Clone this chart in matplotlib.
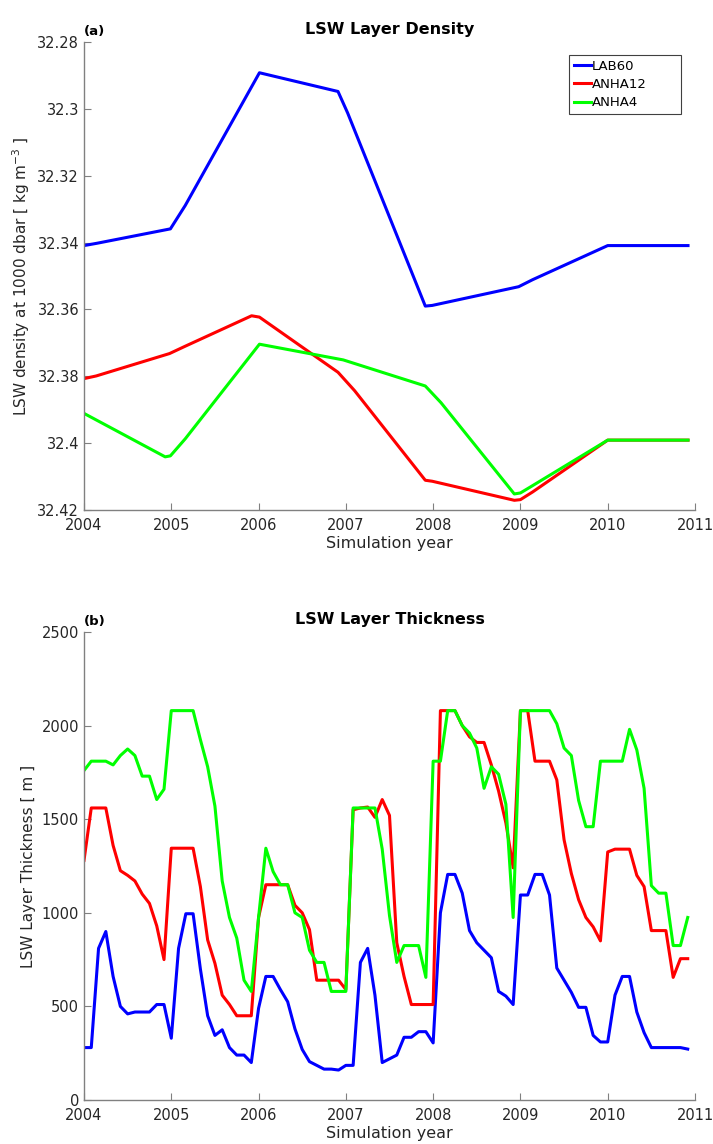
import matplotlib
matplotlib.use("Agg")
import matplotlib.pyplot as plt
import numpy as np

# panel (a): density vertices (decimal year, value)
lab60_dens_t = [2004.0, 2004.15, 2004.99, 2005.16, 2006.01, 2006.91, 2007.02, 2007.91, 2007.99,
                2008.98, 2009.14, 2010.0, 2010.92]
lab60_dens = [32.3409, 32.3402, 32.3359, 32.3289, 32.2892, 32.2948, 32.3012, 32.3590, 32.3588,
              32.3532, 32.3511, 32.3409, 32.3409]
anha12_dens_t = [2004.0, 2004.14, 2004.98, 2005.16, 2005.92, 2006.01, 2006.91, 2007.10,
                 2007.91, 2007.99, 2008.93, 2009.0, 2009.14, 2010.0, 2010.92]
anha12_dens = [32.3807, 32.3799, 32.3732, 32.3710, 32.3619, 32.3623, 32.3788, 32.3843,
               32.4111, 32.4114, 32.4171, 32.4169, 32.4146, 32.3991, 32.3991]
anha4_dens_t = [2004.0, 2004.93, 2004.99, 2005.16, 2006.01, 2006.97, 2007.91, 2008.09,
                2008.93, 2009.0, 2009.14, 2010.0, 2010.92]
anha4_dens = [32.3911, 32.4041, 32.4038, 32.3987, 32.3704, 32.3751, 32.3829, 32.3879,
              32.4152, 32.4149, 32.4127, 32.3991, 32.3991]

# panel (b): monthly layer thickness, Jan 2004 - Dec 2010
lab60_thk = [280, 280, 810, 900, 660, 500, 460, 470, 470, 470, 510, 510,
             330, 810, 995, 995, 700, 450, 345, 375, 280, 240, 240, 200,
             490, 660, 660, 590, 525, 380, 270, 205, 185, 165, 165, 160,
             185, 185, 735, 810, 560, 200, 220, 240, 335, 335, 365, 365,
             305, 1000, 1205, 1205, 1105, 905, 840, 800, 760, 580, 555, 510,
             1095, 1095, 1205, 1205, 1095, 705, 640, 575, 495, 495, 345, 310,
             310, 560, 660, 660, 470, 360, 280, 280, 280, 280, 280, 272]
anha12_thk = [1280, 1560, 1560, 1560, 1360, 1225, 1200, 1170, 1100, 1050, 930, 750,
              1345, 1345, 1345, 1345, 1140, 855, 730, 560, 510, 450, 450, 450,
              975, 1150, 1150, 1150, 1150, 1040, 1000, 910, 640, 640, 640, 640,
              590, 1550, 1560, 1565, 1510, 1605, 1520, 840, 660, 510, 510, 510,
              510, 2080, 2080, 2080, 2000, 1940, 1910, 1910, 1790, 1650, 1480, 1240,
              2080, 2080, 1810, 1810, 1810, 1710, 1390, 1210, 1070, 975, 925, 850,
              1325, 1340, 1340, 1340, 1200, 1140, 905, 905, 905, 655, 755, 755]
anha4_thk = [1760, 1810, 1810, 1810, 1790, 1840, 1875, 1840, 1730, 1730, 1605, 1660,
             2080, 2080, 2080, 2080, 1925, 1780, 1570, 1170, 975, 865, 640, 580,
             975, 1345, 1220, 1150, 1150, 1000, 975, 800, 735, 735, 580, 580,
             580, 1560, 1560, 1560, 1560, 1340, 985, 735, 825, 825, 825, 655,
             1810, 1810, 2080, 2080, 2000, 1960, 1880, 1665, 1780, 1740, 1580, 975,
             2080, 2080, 2080, 2080, 2080, 2010, 1880, 1840, 1600, 1460, 1460, 1810,
             1810, 1810, 1810, 1980, 1870, 1665, 1145, 1105, 1105, 825, 825, 975]
months = 2004 + np.arange(len(lab60_thk)) / 12.0

years = list(range(2004, 2012))
dens_ticks = [32.28, 32.30, 32.32, 32.34, 32.36, 32.38, 32.40, 32.42]
dens_labels = ['32.28', '32.3', '32.32', '32.34', '32.36', '32.38', '32.4', '32.42']
thk_ticks = [0, 500, 1000, 1500, 2000, 2500]

plt.rcParams['font.family'] = ['DejaVu Sans']
grey = '#262626'

fig = plt.figure(figsize=(7.13, 11.44), dpi=100)
ax1 = fig.add_axes([84/713, 1 - 510/1144, 611/713, 468/1144])
ax2 = fig.add_axes([84/713, 1 - 1100/1144, 611/713, 468/1144])


def style(ax):
    for s in ['top', 'right']:
        ax.spines[s].set_visible(False)
    for s in ['left', 'bottom']:
        ax.spines[s].set_color('#808080')
        ax.spines[s].set_linewidth(1.0)
    ax.tick_params(direction='in', length=5, color='#808080', labelcolor=grey,
                   labelsize=10.5)
    ax.tick_params(axis='x', pad=6)
    ax.set_xlim(2004, 2011)
    ax.set_xticks(years)
    ax.set_xlabel('Simulation year', fontsize=11.5, color=grey, labelpad=2)


ax1.plot(lab60_dens_t, lab60_dens, color='#0000ff', lw=2.2, label='LAB60')
ax1.plot(anha12_dens_t, anha12_dens, color='#ff0000', lw=2.2, label='ANHA12')
ax1.plot(anha4_dens_t, anha4_dens, color='#00ff00', lw=2.2, label='ANHA4')
style(ax1)
ax1.set_ylim(32.42, 32.28)
ax1.set_yticks(dens_ticks)
ax1.set_yticklabels(dens_labels)
ax1.set_ylabel('LSW density at 1000 dbar [ kg m$^{-3}$ ]', fontsize=11, color=grey)
ax1.set_title('LSW Layer Density', fontsize=11.5, fontweight='bold', pad=6)
ax1.text(0, 1.008, '(a)', transform=ax1.transAxes, fontsize=9.5, fontweight='bold',
         va='bottom', ha='left')
leg = ax1.legend(loc='upper left', bbox_to_anchor=(0.794, 0.5, 0.183, 0.472),
                 mode='expand', fontsize=9.5, handlelength=1.3, handletextpad=0.05,
                 borderpad=0.35, borderaxespad=0, labelspacing=0.4,
                 fancybox=False, framealpha=1)
leg.get_frame().set_edgecolor('#404040')
leg.get_frame().set_linewidth(0.8)

ax2.plot(months, lab60_thk, color='#0000ff', lw=2.2)
ax2.plot(months, anha12_thk, color='#ff0000', lw=2.2)
ax2.plot(months, anha4_thk, color='#00ff00', lw=2.2)
style(ax2)
ax2.set_ylim(0, 2500)
ax2.set_yticks(thk_ticks)
ax2.set_ylabel('LSW Layer Thickness [ m ]', fontsize=11, color=grey)
ax2.set_title('LSW Layer Thickness', fontsize=11.5, fontweight='bold', pad=6)
ax2.text(0, 1.008, '(b)', transform=ax2.transAxes, fontsize=9.5, fontweight='bold',
         va='bottom', ha='left')

fig.savefig('out.png', dpi=100)
